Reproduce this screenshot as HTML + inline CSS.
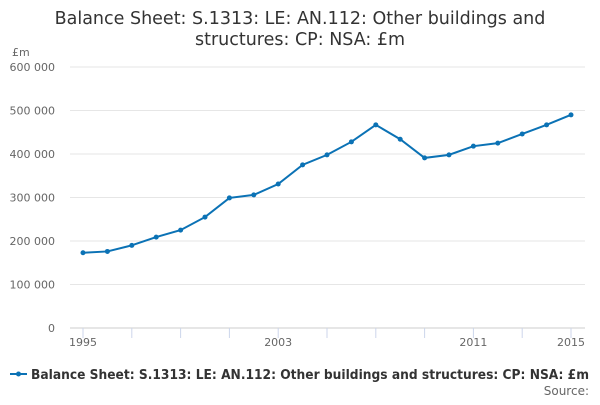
<!DOCTYPE html>
<html><head><meta charset="utf-8"><style>
body{margin:0;width:600px;height:400px;background:#fff;overflow:hidden;font-family:"Liberation Sans","DejaVu Sans",sans-serif}
</style></head><body>
<svg width="600" height="400" xmlns="http://www.w3.org/2000/svg">
<g id="title" font-family="DejaVu Sans, sans-serif" font-size="17.5" fill="#333" text-anchor="middle">
<text x="300" y="24">Balance Sheet: S.1313: LE: AN.112: Other buildings and</text>
<text x="300" y="45">structures: CP: NSA: £m</text>
</g>
<text x="12" y="56" font-size="11" fill="#666" font-family="DejaVu Sans, sans-serif">£m</text>
<g id="grid"></g><g id="yt"></g><g id="xt"></g><g id="series"></g>
<g>
<line x1="10" y1="374" x2="27" y2="374" stroke="#0b72b5" stroke-width="2"/>
<circle cx="18.5" cy="374" r="2.5" fill="#0b72b5"/>
<text x="31" y="379" font-size="13" font-weight="bold" fill="#333" font-family="DejaVu Sans, sans-serif" textLength="558" lengthAdjust="spacingAndGlyphs">Balance Sheet: S.1313: LE: AN.112: Other buildings and structures: CP: NSA: £m</text>
</g>
<text x="589" y="395" text-anchor="end" font-size="12" fill="#666" font-family="DejaVu Sans, sans-serif">Source:</text>
</svg>
<script>
const years=[1995,1996,1997,1998,1999,2000,2001,2002,2003,2004,2005,2006,2007,2008,2009,2010,2011,2012,2013,2014,2015];
const values=[173000,176000,190000,209000,225000,255000,299000,306000,331000,375000,398000,428000,467000,434000,391000,398000,418000,425000,446000,467000,490000];
const yTicks=[0,100000,200000,300000,400000,500000,600000];
const yTickLabels=["0","100 000","200 000","300 000","400 000","500 000","600 000"];
const xLabels=[1995,2003,2011,2015];
const NS="http://www.w3.org/2000/svg";
const x=v=>83+(v-1995)*(571-83)/20;
const y=v=>328-v*(328-67)/600000;
function mk(t,a,p){const e=document.createElementNS(NS,t);for(const k in a)e.setAttribute(k,a[k]);p.appendChild(e);return e;}
const g=document.getElementById('grid'),yt=document.getElementById('yt'),xt=document.getElementById('xt'),s=document.getElementById('series');
yTicks.forEach((v,i)=>{
 const l=mk('line',{x1:70,x2:585,y1:y(v),y2:y(v),stroke:i==0?'#ccc':'#e6e6e6','stroke-width':1},g);
 
 
 const t=mk('text',{x:55,y:y(v)+4,'text-anchor':'end','font-size':11,fill:'#666','font-family':'DejaVu Sans, sans-serif'},yt);
 t.textContent=yTickLabels[i];
 
 
});
for(let yr=1995;yr<=2015;yr+=2){
 const l=mk('line',{x1:x(yr),x2:x(yr),y1:328,y2:338,stroke:'#ccd6eb'},xt);
 
 
}
mk('line',{x1:x(2015),x2:x(2015),y1:328,y2:338,stroke:'#ccd6eb'},xt);
xLabels.forEach(v=>{
 const t=mk('text',{x:x(v),y:346,'text-anchor':'middle','font-size':11,fill:'#666','font-family':'DejaVu Sans, sans-serif'},xt);
 t.textContent=v;
 
 
});
const p=mk('polyline',{points:years.map((yr,i)=>x(yr)+','+y(values[i])).join(' '),fill:'none',stroke:'#0b72b5','stroke-width':2},s);


years.forEach((yr,i)=>{
 const c=mk('circle',{cx:x(yr),cy:y(values[i]),r:2.5,fill:'#0b72b5'},s);
 
 
});
</script>
</body></html>
